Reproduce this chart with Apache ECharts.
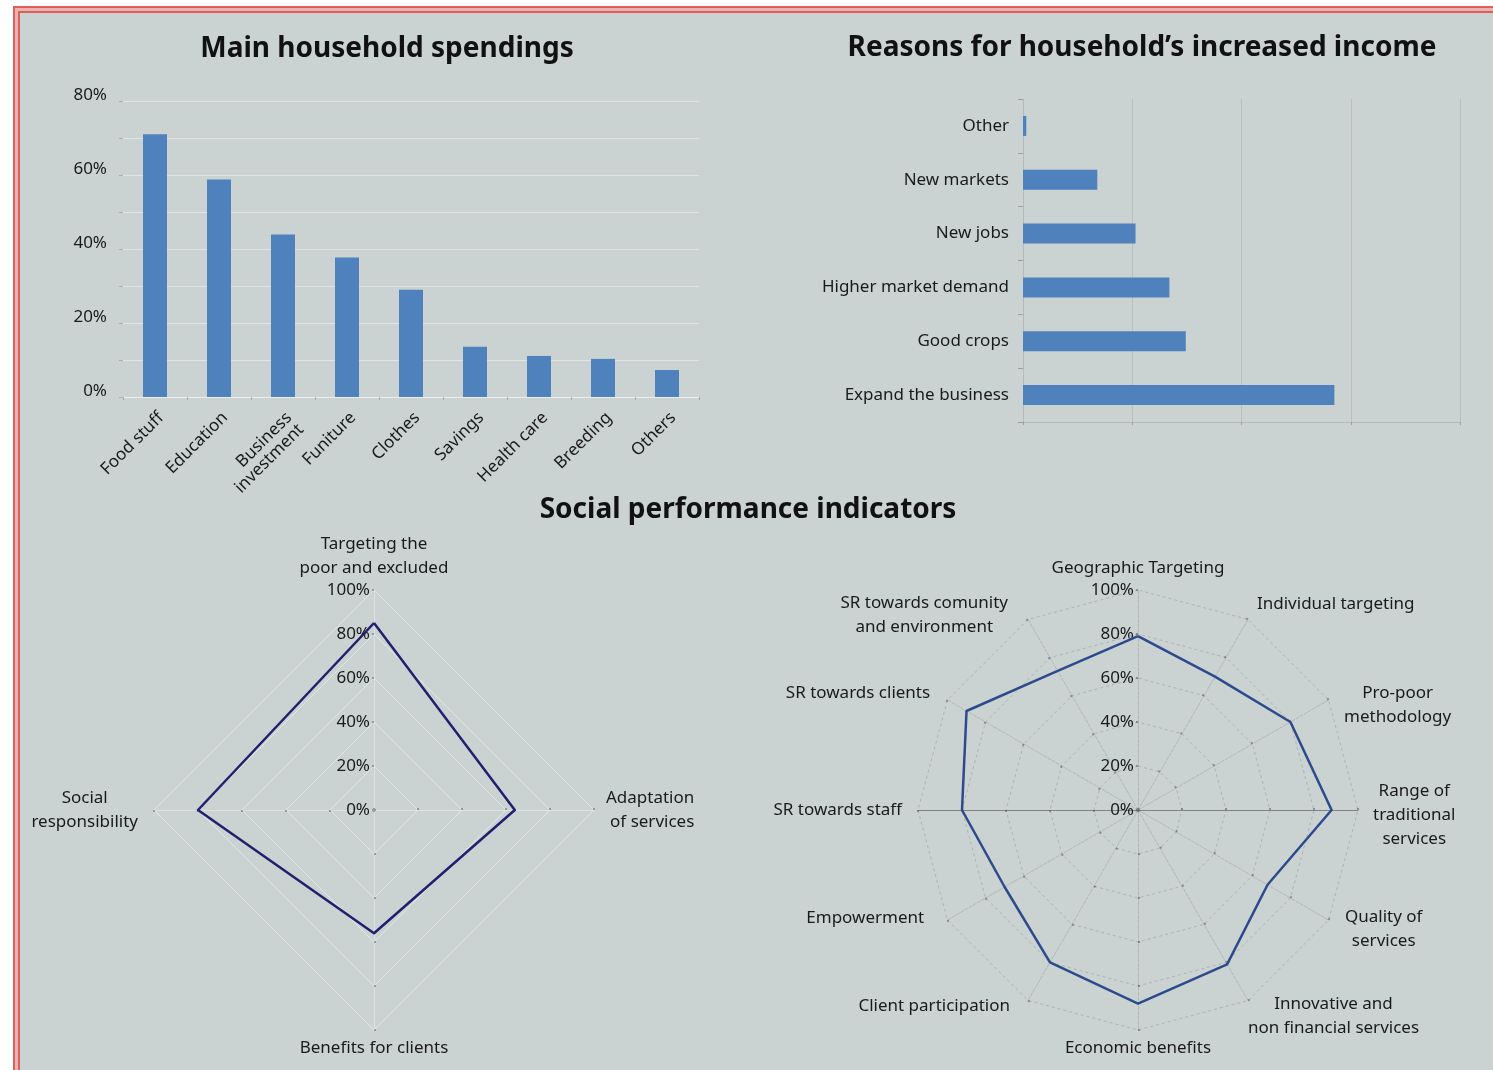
<!DOCTYPE html>
<html>
<head>
<meta charset="utf-8">
<script src="https://cdn.jsdelivr.net/npm/echarts@6/dist/echarts.min.js"></script>
<style>
  html, body { margin: 0; padding: 0; background: #ffffff; width: 1493px; height: 1070px; overflow: hidden; }
  #frame { position: absolute; left: 13px; top: 6px; width: 1480px; height: 1064px; box-sizing: border-box;
           border-left: 7px double #d9605c; border-top: 7px double #d9605c; background: #eab3b0; }
  #bg { position: absolute; left: 20px; top: 13px; width: 1473px; height: 1057px; background: #cbd2d2; }
  #chart { position: absolute; left: 0; top: 0; width: 1493px; height: 1070px; }
</style>
</head>
<body>
<div id="frame"></div>
<div id="bg"></div>
<div id="chart"></div>
<script>
// ---- Data ----
const spendCategories = ['Food stuff', 'Education', 'Business\ninvestment', 'Funiture', 'Clothes', 'Savings', 'Health care', 'Breeding', 'Others'];
const spendValues = [71, 58.8, 43.9, 37.7, 29, 13.6, 11.1, 10.3, 7.3];

const incomeCategories = ['Expand the business', 'Good crops', 'Higher market demand', 'New jobs', 'New markets', 'Other'];
const incomeValues = [28.5, 14.9, 13.4, 10.3, 6.8, 0.3];

// radar indicators listed counter-clockwise from the top (ECharts order)
const spiNames4 = ['Targeting the\npoor and excluded', 'Social\nresponsibility', 'Benefits for clients', 'Adaptation\nof services'];
const spiValues4 = [85, 80, 56, 64];

const spiNames12 = ['Geographic Targeting', 'SR towards comunity\nand environment', 'SR towards clients', 'SR towards staff',
  'Empowerment', 'Client participation', 'Economic benefits', 'Innovative and\nnon financial services',
  'Quality of\nservices', 'Range of\ntraditional\nservices', 'Pro-poor\nmethodology', 'Individual targeting'];
const spiValues12 = [79, 73, 90, 80, 70, 80, 88, 81, 68, 88, 80, 70];

const percentTicks = [0, 20, 40, 60, 80, 100];

// ---- Styles ----
const FONT = '"Noto Sans", "Open Sans", sans-serif';
const TXT = '#1a1a1a';
const BAR = '#4f81bd';

const gaps4 = [10, 16, 6, 12];
const pads4 = [0, 0, 0, 0];
const gaps12 = [10, 20, 20, 16, 20, 14, 6, 0, 19, 15, 18, 18];
const pads12 = [0, [26, 10, 0, 0], [6, 0, 0, 0], 0, [0, 6, 24, 0], [0, 11, 12, 0], 0, [32, 0, 0, 0],
  0, [10, 0, 0, 0], [28, 0, 0, 0], 0];

function nameFmt(v) {
  const style = v.indexOf('Adaptation') === 0 ? 'r' : 'c';
  return v.split('\n').map(s => '{' + style + '|' + s + '}').join('\n');
}
const nameRich = {
  c: { align: 'center', fontSize: 17, lineHeight: 24, color: TXT, fontFamily: FONT },
  r: { align: 'right', fontSize: 17, lineHeight: 24, color: TXT, fontFamily: FONT }
};
const tickLabel = { show: true, formatter: '{value}%', color: TXT, fontSize: 17, fontFamily: FONT, margin: 4 };

function makeInd(names, gaps, pads) {
  return names.map((n, i) => {
    const o = { name: n, min: 0, max: 100, nameGap: gaps[i] };
    if (pads[i]) o.nameTextStyle = { padding: pads[i] };
    if (i === 0) o.axisLabel = tickLabel;
    return o;
  });
}
const ind4 = makeInd(spiNames4, gaps4, pads4);
const ind12 = makeInd(spiNames12, gaps12, pads12);
ind12.forEach(o => {
  if (o.name === 'SR towards staff' || o.name.indexOf('Range of') === 0) {
    o.axisLine = { lineStyle: { color: '#7f8586', type: 'solid', width: 1 } };
  }
});

const titleStyle = { fontSize: 28, fontWeight: 'bold', color: '#111', fontFamily: FONT };

const option = {
  backgroundColor: 'transparent',
  animation: false,
  textStyle: { fontFamily: FONT },
  title: [
    { text: 'Main household spendings', left: 387, top: 35, textAlign: 'center', padding: 0, textStyle: titleStyle },
    { text: 'Reasons for household\u2019s increased income', left: 1142, top: 34, textAlign: 'center', padding: 0, textStyle: titleStyle },
    { text: 'Social performance indicators', left: 748, top: 496, textAlign: 'center', padding: 0, textStyle: titleStyle }
  ],
  grid: [
    { left: 123, top: 101, width: 576, height: 296, containLabel: false },
    { left: 1023, top: 99, width: 437, height: 323, containLabel: false }
  ],
  xAxis: [
    {
      gridIndex: 0, type: 'category', data: spendCategories,
      axisLine: { show: true, lineStyle: { color: 'rgba(255,255,255,0.45)' } },
      axisTick: { show: true, length: 3, lineStyle: { color: 'rgba(120,120,120,0.5)' } },
      axisLabel: { rotate: 45, color: TXT, fontSize: 17, fontFamily: FONT, margin: 12, lineHeight: 17, interval: 0,
                   verticalAlign: 'top' }
    },
    {
      gridIndex: 1, type: 'value', min: 0, max: 40, interval: 10,
      axisLine: { show: true, lineStyle: { color: '#b4babb' } },
      axisTick: { show: true, length: 3, lineStyle: { color: '#9aa0a1' } },
      axisLabel: { show: false },
      splitLine: { show: true, lineStyle: { color: '#b9bfc0', width: 1 } }
    }
  ],
  yAxis: [
    {
      gridIndex: 0, type: 'value', min: 0, max: 80, interval: 10,
      axisLine: { show: false },
      axisTick: { show: true, length: 4, lineStyle: { color: 'rgba(120,120,120,0.4)' } },
      axisLabel: { color: TXT, fontSize: 17, fontFamily: FONT, margin: 16, verticalAlign: 'bottom', padding: [0, 0, -3, 0],
                   formatter: v => (percentTicks.indexOf(v) >= 0 ? v + '%' : '') },
      splitLine: { show: true, lineStyle: { color: 'rgba(255,255,255,0.4)', width: 1 } }
    },
    {
      gridIndex: 1, type: 'category', data: incomeCategories,
      axisLine: { show: true, lineStyle: { color: '#b4babb' } },
      axisTick: { show: true, length: 5, lineStyle: { color: '#9aa0a1' } },
      axisLabel: { color: TXT, fontSize: 17, fontFamily: FONT, margin: 14 }
    }
  ],
  radar: [
    {
      center: [374, 810], radius: 220, shape: 'polygon', splitNumber: 5,
      axisName: { formatter: nameFmt, rich: nameRich, color: TXT, fontSize: 17, fontFamily: FONT },
      axisLine: { lineStyle: { color: 'rgba(255,255,255,0.35)', width: 1 } },
      axisTick: { show: true, length: 2, lineStyle: { color: 'rgba(110,110,110,0.6)', width: 2 } },
      axisLabel: { show: false },
      splitLine: { lineStyle: { color: 'rgba(255,255,255,0.45)', width: 1 } },
      splitArea: { show: false },
      indicator: ind4
    },
    {
      center: [1138, 810], radius: 220, shape: 'polygon', splitNumber: 5,
      axisName: { formatter: nameFmt, rich: nameRich, color: TXT, fontSize: 17, fontFamily: FONT },
      axisLine: { lineStyle: { color: 'rgba(90,90,90,0.28)', width: 0.8, type: 'dashed' } },
      axisTick: { show: true, length: 2, lineStyle: { color: 'rgba(90,90,90,0.55)', width: 2 } },
      axisLabel: { show: false },
      splitLine: { lineStyle: { color: 'rgba(80,80,80,0.3)', width: 0.8, type: [3, 3] } },
      splitArea: { show: false },
      indicator: ind12
    }
  ],
  series: [
    {
      type: 'bar', xAxisIndex: 0, yAxisIndex: 0, data: spendValues, barWidth: 24,
      itemStyle: { color: BAR }
    },
    {
      type: 'bar', xAxisIndex: 1, yAxisIndex: 1, data: incomeValues, barWidth: 20,
      itemStyle: { color: BAR }
    },
    {
      type: 'radar', radarIndex: 0, symbol: 'none',
      lineStyle: { color: '#20206e', width: 2.5 },
      data: [{ value: spiValues4 }]
    },
    {
      type: 'radar', radarIndex: 1, symbol: 'none',
      lineStyle: { color: '#2d4b8c', width: 2.5 },
      data: [{ value: spiValues12 }]
    }
  ]
};

const chart = echarts.init(document.getElementById('chart'), null, { renderer: 'canvas' });
chart.setOption(option);
</script>
</body>
</html>
